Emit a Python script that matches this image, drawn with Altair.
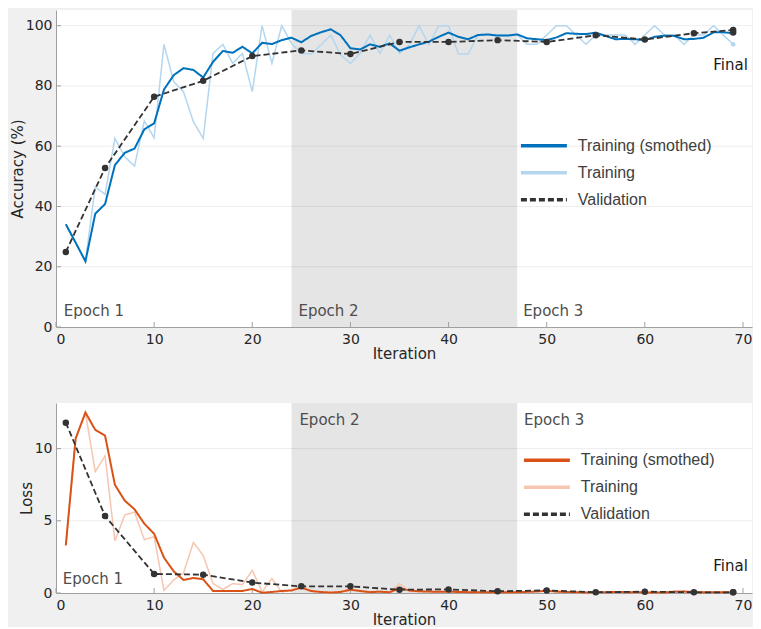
import altair as alt
import pandas as pd

# ---------------- data ----------------
iterations = list(range(1, 70))

acc_smooth = [34.1, 28.0, 21.8, 37.6, 40.8, 53.7, 57.8, 59.2, 65.6, 67.6,
              78.8, 83.6, 85.9, 85.3, 82.8, 88.0, 91.6, 91.0, 93.0, 90.8,
              94.3, 93.9, 95.2, 96.0, 94.5, 96.6, 97.8, 98.8, 96.8, 92.5,
              92.1, 93.8, 93.0, 94.1, 91.7, 92.8, 93.8, 94.7, 96.3, 97.7,
              96.3, 95.5, 96.9, 97.1, 96.7, 96.7, 97.1, 95.8, 95.5, 95.2,
              96.1, 97.5, 97.3, 97.2, 97.7, 96.6, 95.5, 95.6, 95.5, 95.2,
              96.3, 96.7, 96.6, 95.5, 95.6, 96.0, 97.8, 97.8, 97.5]
acc_raw = [34.1, 28.0, 21.8, 46.5, 44.0, 62.6, 56.5, 53.4, 68.4, 62.8,
           93.8, 81.4, 78.0, 68.1, 62.6, 90.8, 93.8, 87.5, 90.8, 78.1,
           100.0, 87.5, 100.0, 94.1, 90.8, 90.6, 93.6, 96.9, 90.3, 87.5,
           90.8, 96.9, 90.8, 96.9, 90.8, 93.6, 100.0, 93.6, 100.0, 100.0,
           90.6, 90.6, 96.9, 96.9, 96.9, 96.9, 96.9, 93.8, 93.8, 96.9,
           100.0, 100.0, 96.9, 93.8, 96.9, 96.9, 96.9, 96.9, 93.8, 96.9,
           100.0, 96.9, 96.9, 93.8, 96.9, 96.9, 100.0, 96.9, 93.8]
val_iters = [1, 5, 10, 15, 20, 25, 30, 35, 40, 45, 50, 55, 60, 65, 69]
acc_val = [24.9, 52.8, 76.4, 81.7, 89.9, 91.8, 90.6, 94.6, 94.6, 95.2,
           94.6, 96.8, 95.4, 97.5, 98.6]
acc_final_val = 97.7
acc_final_raw = 93.8

loss_smooth = [3.3, 10.7, 12.5, 11.3, 10.9, 7.5, 6.4, 5.8, 4.8, 4.1,
               2.45, 1.5, 0.9, 1.04, 0.95, 0.14, 0.14, 0.14, 0.14, 0.28,
               0.02, 0.07, 0.14, 0.18, 0.37, 0.14, 0.07, 0.03, 0.07, 0.23,
               0.14, 0.06, 0.09, 0.05, 0.33, 0.18, 0.12, 0.10, 0.08, 0.10,
               0.07, 0.06, 0.05, 0.05, 0.04, 0.05, 0.06, 0.08, 0.10, 0.15,
               0.10, 0.07, 0.05, 0.04, 0.04, 0.05, 0.07, 0.06, 0.05, 0.04,
               0.03, 0.04, 0.08, 0.10, 0.07, 0.05, 0.05, 0.06, 0.05]
loss_raw = [3.3, 10.7, 12.5, 8.4, 9.5, 3.6, 5.4, 5.6, 3.7, 3.9,
            0.18, 0.9, 1.4, 3.5, 2.6, 0.65, 0.25, 0.65, 0.58, 1.57,
            0.07, 1.0, 0.07, 0.18, 0.5, 0.10, 0.05, 0.02, 0.10, 0.30,
            0.10, 0.04, 0.12, 0.04, 0.65, 0.10, 0.08, 0.08, 0.06, 0.12,
            0.05, 0.05, 0.04, 0.05, 0.03, 0.06, 0.07, 0.10, 0.12, 0.20,
            0.06, 0.05, 0.04, 0.03, 0.05, 0.06, 0.08, 0.05, 0.04, 0.03,
            0.03, 0.05, 0.15, 0.12, 0.04, 0.05, 0.06, 0.06, 0.04]
loss_val = [11.8, 5.33, 1.32, 1.27, 0.72, 0.46, 0.46, 0.23, 0.25, 0.12,
            0.18, 0.05, 0.09, 0.05, 0.05]
loss_final_val = 0.05
loss_final_raw = 0.04

series = ["Training (smothed)", "Training", "Validation"]
epoch_labels = ["Epoch 1", "Epoch 2", "Epoch 3"]
epoch2_span = [24, 47]
x_ticks = [0, 10, 20, 30, 40, 50, 60, 70]
acc_ticks = [0, 20, 40, 60, 80, 100]
loss_ticks = [0, 5, 10]

# ---------------- styling ----------------
FONT = "DejaVu Sans"
LEG_FONT = "Liberation Sans"
AX = "#A0A0A0"
TXT = "#262626"
W = 696
X_DOMAIN = [0, 70.92]


def panel(smooth, raw, val, final_val, final_raw, colors, ytitle, ydom, yticks,
          height, epoch_x, epoch_y, final_xy, legend_xy):
    x_scale = alt.Scale(domain=X_DOMAIN, nice=False, zero=False)
    y_scale = alt.Scale(domain=ydom, nice=False, zero=False)
    x_axis = alt.Axis(values=x_ticks, title="Iteration", grid=False, ticks=False,
                      domainColor=AX, labelFont=FONT, labelFontSize=14,
                      labelColor=TXT, labelPadding=5, titleFont=FONT,
                      titleFontSize=15, titleFontWeight="normal", titleColor=TXT,
                      titlePadding=0)
    y_axis = alt.Axis(values=yticks, title=ytitle, grid=False, ticks=False,
                      domainColor=AX, labelFont=FONT, labelFontSize=14,
                      labelColor=TXT, labelPadding=4, titleFont=FONT,
                      titleFontSize=15, titleFontWeight="normal", titleColor=TXT,
                      titlePadding=0)

    shade = alt.Chart(pd.DataFrame({"x0": [epoch2_span[0]], "x1": [epoch2_span[1]]})).mark_rect(
        color="#E5E5E5").encode(
        x=alt.X("x0:Q", scale=x_scale, axis=x_axis),
        x2="x1:Q")

    grid = alt.Chart(pd.DataFrame({"g": [t for t in yticks if t > 0]})).mark_rule(
        color="#000000", opacity=0.07, strokeWidth=1).encode(
        y=alt.Y("g:Q", scale=y_scale, axis=y_axis))

    xt = alt.Chart(pd.DataFrame({"t": x_ticks})).mark_rule(color=AX).encode(
        x=alt.X("t:Q", scale=x_scale), y=alt.value(height), y2=alt.value(height - 5))
    yt = alt.Chart(pd.DataFrame({"t": yticks})).mark_rule(color=AX).encode(
        y=alt.Y("t:Q", scale=y_scale), x=alt.value(0), x2=alt.value(5))

    df = pd.concat([
        pd.DataFrame({"it": iterations, "v": raw, "s": series[1]}),
        pd.DataFrame({"it": iterations, "v": smooth, "s": series[0]}),
        pd.DataFrame({"it": val_iters, "v": val, "s": series[2]}),
    ])
    legend = alt.Legend(orient="none", legendX=legend_xy[0], legendY=legend_xy[1],
                        title=None, symbolType="M-1.385,0H1.385", symbolSize=1102,
                        symbolStrokeWidth=3.5, labelFont=LEG_FONT, labelFontSize=16,
                        labelColor="#404040", rowPadding=0, padding=0,
                        labelOffset=15.4)
    cscale = alt.Scale(domain=series, range=colors)
    dscale = alt.Scale(domain=series, range=[[1, 0], [1, 0], [6, 3]])

    def line(name, width):
        return alt.Chart(df[df["s"] == name]).mark_line(strokeWidth=width).encode(
            x=alt.X("it:Q", scale=x_scale),
            y=alt.Y("v:Q", scale=y_scale),
            color=alt.Color("s:N", scale=cscale, legend=legend),
            strokeDash=alt.StrokeDash("s:N", scale=dscale, legend=legend),
        )

    fin = alt.Chart(pd.DataFrame({"it": [69], "v": [final_raw]})).mark_circle(
        size=22, color=colors[1], opacity=1).encode(
        x=alt.X("it:Q", scale=x_scale), y=alt.Y("v:Q", scale=y_scale))
    pts = alt.Chart(pd.DataFrame({"it": val_iters + [69], "v": val + [final_val]})).mark_circle(
        size=42, color=colors[2], opacity=1).encode(
        x=alt.X("it:Q", scale=x_scale), y=alt.Y("v:Q", scale=y_scale))

    ep = alt.Chart(pd.DataFrame({"x": epoch_x, "y": epoch_y, "t": epoch_labels})).mark_text(
        align="left", baseline="middle", font=FONT, fontSize=15, color="#4D4D4D").encode(
        x=alt.X("x:Q", scale=x_scale), y=alt.Y("y:Q", scale=y_scale), text="t:N")
    fl = alt.Chart(pd.DataFrame({"x": [final_xy[0]], "y": [final_xy[1]], "t": ["Final"]})).mark_text(
        align="right", baseline="middle", font=FONT, fontSize=15, color="#1A1A1A").encode(
        x=alt.X("x:Q", scale=x_scale), y=alt.Y("y:Q", scale=y_scale), text="t:N")

    return alt.layer(shade, grid, xt, yt, line(series[1], 1.5), line(series[0], 2),
                     line(series[2], 1.8), fin, pts, ep, fl).properties(
        width=W, height=height)


top = panel(acc_smooth, acc_raw, acc_val, acc_final_val, acc_final_raw,
            ["#0072BD", "#B4D6EE", "#333333"], "Accuracy (%)", [0, 105.2], acc_ticks,
            317, [0.8, 24.7, 47.6], [5.2, 5.2, 5.2], [70.5, 86.9], [469.4, 117.2])
bottom = panel(loss_smooth, loss_raw, loss_val, loss_final_val, loss_final_raw,
               ["#D95319", "#F7C6B0", "#333333"], "Loss", [0, 13.16], loss_ticks,
               190, [0.7, 24.8, 47.7], [1.0, 11.96, 11.96], [70.5, 1.9], [472.4, 38.8])

chart = alt.vconcat(top, bottom, spacing=76, bounds="flush").resolve_scale(
    color="independent", strokeDash="independent").configure(
    background="#F0F0F0", padding={"left": 2, "top": 2, "right": 0, "bottom": 0}
).configure_view(fill="white", stroke=None)

chart.save("out.html", embed_options={"renderer": "svg", "actions": False})
